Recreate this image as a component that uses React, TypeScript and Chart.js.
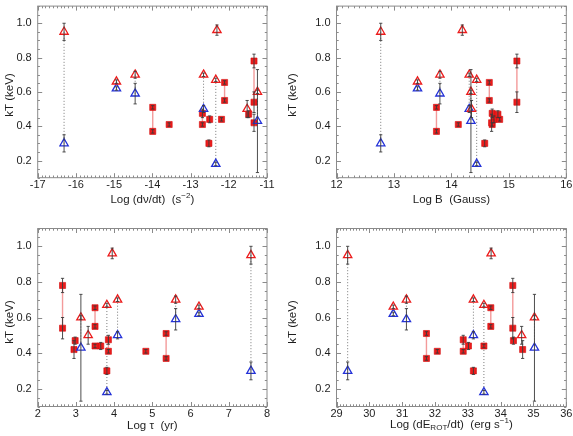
import React, { useEffect, useRef } from 'react';
import { Chart, registerables } from 'chart.js';
Chart.register(...registerables);

// ---- Data: one entry per source ----
// kind: 'triPair' (red open triangle + blue open triangle, dotted link),
//       'tri' (single red triangle), 'sqPair' (two red squares, red link), 'sq' (single red square)
const kind = ['triPair', 'triPair', 'triPair', 'sqPair', 'sq', 'triPair', 'sqPair', 'sq', 'sq', 'tri', 'triPair', 'sq', 'sqPair', 'tri', 'sq', 'sqPair', 'sq', 'triPair'];
const kT1 = [0.95, 0.66, 0.70, 0.51, 0.41, 0.70, 0.475, 0.44, 0.30, 0.96, 0.67, 0.44, 0.655, 0.50, 0.47, 0.78, 0.42, 0.60];
const kT1Lo = [0.90, 0.65, 0.68, 0.50, 0.40, 0.69, 0.45, 0.42, 0.28, 0.93, 0.66, 0.43, 0.645, 0.45, 0.45, 0.74, 0.37, 0.59];
const kT1Hi = [1.00, 0.67, 0.72, 0.52, 0.42, 0.71, 0.50, 0.46, 0.32, 0.99, 0.68, 0.45, 0.665, 0.55, 0.49, 0.82, 0.47, 0.61];
const kT2 = [0.30, 0.62, 0.59, 0.37, null, 0.50, 0.41, null, null, null, 0.18, null, 0.55, null, null, 0.54, null, 0.43];
const kT2Lo = [0.25, 0.61, 0.53, 0.36, null, 0.48, 0.40, null, null, null, 0.17, null, 0.54, null, null, 0.48, null, 0.13];
const kT2Hi = [0.35, 0.63, 0.65, 0.38, null, 0.52, 0.42, null, null, null, 0.19, null, 0.56, null, null, 0.60, null, 0.73];

const logNuDot = [-16.31, -14.94, -14.45, -13.99, -13.56, -12.66, -12.69, -12.50, -12.52, -12.31, -12.34, -12.19, -12.11, -11.52, -11.48, -11.34, -11.34, -11.25];
const logB = [12.77, 13.41, 13.80, 13.74, 14.12, 14.31, 14.71, 14.74, 14.58, 14.19, 14.44, 14.84, 14.66, 14.35, 14.81, 15.14, 14.70, 14.34];
const logTau = [7.58, 6.22, 5.61, 5.36, 4.83, 4.09, 3.85, 3.65, 3.81, 3.95, 3.81, 3.50, 3.50, 3.32, 2.98, 2.65, 2.95, 3.13];
const logEdot = [29.34, 30.73, 31.13, 31.74, 32.07, 33.17, 32.86, 33.02, 33.17, 33.71, 33.49, 33.49, 33.70, 34.64, 34.39, 34.37, 34.67, 35.03];

const yTickValues = [0.2, 0.4, 0.6, 0.8, 1.0];
const yRange = [0.1, 1.1];
const xRangeNuDot = [-17, -11];
const xRangeB = [12, 16];
const xRangeTau = [2, 8];
const xRangeEdot = [29, 36];

const yTitle = 'kT (keV)';

type Part = { t: string; mode?: 'sup' | 'sub' };
const titleNuDot: Part[] = [{ t: 'Log (d\u03BD/dt)  (s' }, { t: '\u22122', mode: 'sup' }, { t: ')' }];
const titleB: Part[] = [{ t: 'Log B  (Gauss)' }];
const titleTau: Part[] = [{ t: 'Log \u03C4  (yr)' }];
const titleEdot: Part[] = [{ t: 'Log (dE' }, { t: 'ROT', mode: 'sub' }, { t: '/dt)  (erg s' }, { t: '\u22121', mode: 'sup' }, { t: ')' }];

const FONT = "'Liberation Sans', Arial, Helvetica, sans-serif";
const RED = '#ec1c1c';
const BLUE = '#2432d8';
const FRAME = '#8a8a8a';
const TEXT = '#1e1e1e';

interface PanelCfg {
  left: number; top: number; w: number; h: number;
  areaL: number; areaR: number; areaT: number; areaB: number;
  xs: number[]; xr: number[]; title: Part[];
  titleBase: number; yTitleX: number; yTitleY: number;
}

const panels: PanelCfg[] = [
  { left: 0, top: 0, w: 287, h: 218, areaL: 37.7, areaR: 267, areaT: 0.6, areaB: 177.7, xs: logNuDot, xr: xRangeNuDot, title: titleNuDot, titleBase: 203, yTitleX: 10, yTitleY: 95 },
  { left: 284, top: 0, w: 289, h: 218, areaL: 52.5, areaR: 282.3, areaT: 0.6, areaB: 177.7, xs: logB, xr: xRangeB, title: titleB, titleBase: 203, yTitleX: 8.5, yTitleY: 95 },
  { left: 0, top: 218, w: 287, h: 218, areaL: 37.7, areaR: 267, areaT: 10.5, areaB: 188.5, xs: logTau, xr: xRangeTau, title: titleTau, titleBase: 210.5, yTitleX: 10, yTitleY: 104 },
  { left: 284, top: 218, w: 289, h: 218, areaL: 52.5, areaR: 282.3, areaT: 10.5, areaB: 188.5, xs: logEdot, xr: xRangeEdot, title: titleEdot, titleBase: 209.5, yTitleX: 9, yTitleY: 104 },
];

function drawRich(ctx: CanvasRenderingContext2D, parts: Part[], cx: number, base: number, size: number) {
  const segs = parts.map((p) => {
    const s = p.mode ? size * 0.7 : size;
    ctx.font = `${s}px ${FONT}`;
    return { ...p, s, w: ctx.measureText(p.t).width };
  });
  const total = segs.reduce((a, b) => a + b.w, 0);
  let x = cx - total / 2;
  ctx.textAlign = 'left';
  ctx.textBaseline = 'alphabetic';
  ctx.fillStyle = TEXT;
  for (const sg of segs) {
    ctx.font = `${sg.s}px ${FONT}`;
    const dy = sg.mode === 'sup' ? -size * 0.42 : sg.mode === 'sub' ? size * 0.22 : 0;
    ctx.fillText(sg.t, x, base + dy);
    x += sg.w;
  }
}

function makePlugin(cfg: PanelCfg) {
  return {
    id: 'decor',
    beforeDatasetsDraw(chart: any) {
      const { ctx, chartArea } = chart;
      const xs = chart.scales.x;
      const ys = chart.scales.y;
      ctx.save();
      ctx.beginPath();
      ctx.rect(chartArea.left, chartArea.top, chartArea.right - chartArea.left, chartArea.bottom - chartArea.top);
      ctx.clip();
      for (let i = 0; i < kind.length; i++) {
        const k = kind[i];
        const v2 = kT2[i];
        if (v2 == null) continue;
        const px = xs.getPixelForValue(cfg.xs[i]);
        const p1 = ys.getPixelForValue(kT1[i]);
        const p2 = ys.getPixelForValue(v2);
        ctx.beginPath();
        if (k === 'sqPair') {
          ctx.strokeStyle = '#f39a9a';
          ctx.lineWidth = 1.4;
          ctx.setLineDash([]);
        } else {
          ctx.strokeStyle = '#7a7a7a';
          ctx.lineWidth = 1;
          ctx.setLineDash([1, 2]);
        }
        ctx.moveTo(px, p1);
        ctx.lineTo(px, p2);
        ctx.stroke();
      }
      ctx.restore();
    },
    afterDatasetsDraw(chart: any) {
      const { ctx, chartArea } = chart;
      const xs = chart.scales.x;
      const ys = chart.scales.y;
      ctx.save();
      // error bars
      ctx.strokeStyle = '#3a3a3a';
      ctx.lineWidth = 0.9;
      const bar = (x: number, lo: number, hi: number) => {
        const px = xs.getPixelForValue(x);
        const a = ys.getPixelForValue(lo);
        const b = ys.getPixelForValue(hi);
        ctx.beginPath();
        ctx.moveTo(px, a); ctx.lineTo(px, b);
        ctx.moveTo(px - 1.6, a); ctx.lineTo(px + 1.6, a);
        ctx.moveTo(px - 1.6, b); ctx.lineTo(px + 1.6, b);
        ctx.stroke();
      };
      for (let i = 0; i < kind.length; i++) {
        bar(cfg.xs[i], kT1Lo[i], kT1Hi[i]);
        if (kT2[i] != null) bar(cfg.xs[i], kT2Lo[i] as number, kT2Hi[i] as number);
      }
      // frame
      const L = chartArea.left, R = chartArea.right, T = chartArea.top, B = chartArea.bottom;
      ctx.strokeStyle = FRAME;
      ctx.lineWidth = 1;
      ctx.strokeRect(L, T, R - L, B - T);
      // ticks
      ctx.beginPath();
      const [x0, x1] = cfg.xr;
      const nx = Math.round((x1 - x0) * 10);
      for (let j = 0; j <= nx; j++) {
        const v = x0 + j / 10;
        const len = j % 10 === 0 ? 4.5 : 2.2;
        const px = Math.round(xs.getPixelForValue(v)) + 0.5;
        ctx.moveTo(px, B); ctx.lineTo(px, B - len);
        ctx.moveTo(px, T); ctx.lineTo(px, T + len);
      }
      const ny = Math.round((yRange[1] - yRange[0]) / 0.05);
      for (let j = 0; j <= ny; j++) {
        const v = yRange[0] + j * 0.05;
        const isMajor = Math.abs(v * 5 - Math.round(v * 5)) < 1e-6;
        const len = isMajor ? 4.5 : 2.2;
        const py = Math.round(ys.getPixelForValue(v)) + 0.5;
        ctx.moveTo(L, py); ctx.lineTo(L + len, py);
        ctx.moveTo(R, py); ctx.lineTo(R - len, py);
      }
      ctx.stroke();
      // titles
      drawRich(ctx, cfg.title, (L + R) / 2, cfg.titleBase, 11.5);
      ctx.save();
      ctx.translate(cfg.yTitleX, cfg.yTitleY);
      ctx.rotate(-Math.PI / 2);
      ctx.font = `11.5px ${FONT}`;
      ctx.fillStyle = TEXT;
      ctx.textAlign = 'center';
      ctx.textBaseline = 'middle';
      ctx.fillText(yTitle, 0, 0);
      ctx.restore();
      ctx.restore();
    },
  };
}

function Panel({ cfg }: { cfg: PanelCfg }) {
  const ref = useRef<HTMLCanvasElement>(null);
  useEffect(() => {
    const sq: { x: number; y: number }[] = [];
    const redTri: { x: number; y: number }[] = [];
    const blueTri: { x: number; y: number }[] = [];
    for (let i = 0; i < kind.length; i++) {
      const k = kind[i];
      const x = cfg.xs[i];
      if (k === 'sq' || k === 'sqPair') {
        sq.push({ x, y: kT1[i] });
        if (kT2[i] != null) sq.push({ x, y: kT2[i] as number });
      } else {
        redTri.push({ x, y: kT1[i] });
        if (kT2[i] != null) blueTri.push({ x, y: kT2[i] as number });
      }
    }
    const chart = new Chart(ref.current as HTMLCanvasElement, {
      type: 'scatter',
      data: {
        datasets: [
          { data: redTri, pointStyle: 'triangle', pointRadius: 4.8, borderColor: RED, backgroundColor: 'rgba(0,0,0,0)', pointBorderWidth: 1.3, order: 1 } as any,
          { data: blueTri, pointStyle: 'triangle', pointRadius: 4.8, borderColor: BLUE, backgroundColor: 'rgba(0,0,0,0)', pointBorderWidth: 1.3, order: 2 } as any,
          { data: sq, pointStyle: 'rect', pointRadius: 4.3, borderColor: '#d40a0a', backgroundColor: RED, pointBorderWidth: 0.6, order: 3 } as any,
        ],
      },
      options: {
        animation: false,
        responsive: false,
        devicePixelRatio: 1,
        events: [],
        layout: { padding: { left: 0, right: cfg.w - cfg.areaR, top: cfg.areaT, bottom: 0 } },
        plugins: { legend: { display: false }, tooltip: { enabled: false } },
        scales: {
          x: {
            type: 'linear', min: cfg.xr[0], max: cfg.xr[1],
            grid: { display: false, drawTicks: false, tickLength: 0 }, border: { display: false },
            ticks: { stepSize: 1, autoSkip: false, maxRotation: 0, padding: 1, color: TEXT, font: { size: 11, family: FONT }, callback: (v: any) => String(Math.round(Number(v))) },
            afterFit: (s: any) => {
              s.height = cfg.h - cfg.areaB;
              s.paddingLeft = 0; s.paddingRight = 0; s.paddingTop = 0; s.paddingBottom = 0;
            },
          },
          y: {
            type: 'linear', min: yRange[0], max: yRange[1],
            grid: { display: false, drawTicks: false, tickLength: 0 }, border: { display: false },
            afterBuildTicks: (s: any) => { s.ticks = yTickValues.map((v) => ({ value: v })); },
            ticks: { autoSkip: false, padding: 6, color: TEXT, font: { size: 11, family: FONT }, callback: (v: any) => Number(v).toFixed(1) },
            afterFit: (s: any) => {
              s.width = cfg.areaL;
              s.paddingLeft = 0; s.paddingRight = 0; s.paddingTop = 0; s.paddingBottom = 0;
            },
          },
        },
      } as any,
      plugins: [makePlugin(cfg)],
    });
    return () => chart.destroy();
  }, []);
  return (
    <canvas
      ref={ref}
      width={cfg.w}
      height={cfg.h}
      style={{ position: 'absolute', left: cfg.left, top: cfg.top, width: cfg.w, height: cfg.h }}
    />
  );
}

export default function App() {
  return (
    <div style={{ position: 'absolute', left: 0, top: 0, width: 573, height: 436, background: '#ffffff', overflow: 'hidden' }}>
      {panels.map((p, i) => (
        <Panel key={i} cfg={p} />
      ))}
    </div>
  );
}
